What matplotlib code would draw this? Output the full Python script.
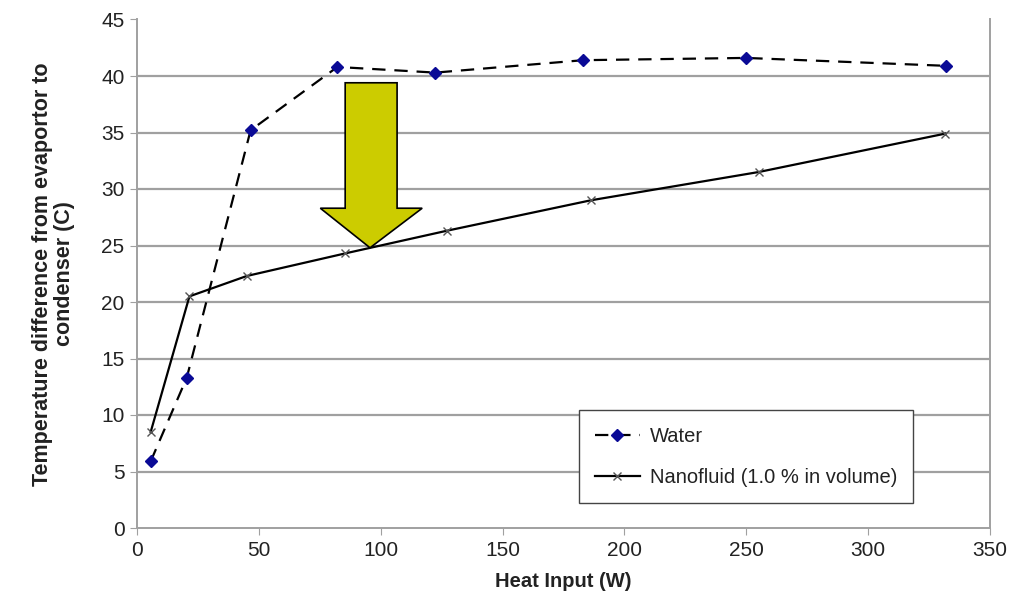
import matplotlib
matplotlib.use("Agg")
import matplotlib.pyplot as plt
from matplotlib.patches import Polygon

plt.rcParams['font.family'] = ['Liberation Sans', 'DejaVu Sans']

# Data
water_x = [5.6, 20.4, 46.6, 82.2, 122.4, 183.1, 249.8, 332.0]
water_y = [5.9, 13.3, 35.2, 40.8, 40.3, 41.4, 41.6, 40.9]
nano_x = [5.6, 21.5, 45.0, 85.4, 127.0, 186.2, 255.0, 331.6]
nano_y = [8.5, 20.5, 22.3, 24.3, 26.3, 29.0, 31.5, 34.9]
x_ticks = list(range(0, 351, 50))
y_ticks = list(range(0, 46, 5))

# Arrow annotation (data units)
arrow_left, arrow_right = 85.4, 106.7
arrow_top, arrow_head_base = 39.4, 28.3
head_left, head_right = 75.2, 117.0
tip_x, tip_y = 95.6, 24.8

fig = plt.figure(figsize=(10.25, 6.0), dpi=100)
ax = fig.add_axes([0.1337, 0.12, 0.8322, 0.8475])

grid_c = '#a0a0a0'
for v in y_ticks[1:-1]:
    ax.axhline(v, color=grid_c, lw=1.6, zorder=1)

ax.plot(water_x, water_y, color='black', lw=1.6, ls=(0, (6, 4)),
        marker='D', ms=6, mfc='#0a0a96', mec='#0a0a96', label='Water', zorder=3)
ax.plot(nano_x, nano_y, color='black', lw=1.6, ls='-',
        marker='x', ms=6, mec='#555555', mew=1.0,
        label='Nanofluid (1.0 % in volume)', zorder=3)

arrow = Polygon([(arrow_left, arrow_top), (arrow_right, arrow_top),
                 (arrow_right, arrow_head_base), (head_right, arrow_head_base),
                 (tip_x, tip_y), (head_left, arrow_head_base),
                 (arrow_left, arrow_head_base)],
                closed=True, facecolor='#cccc00', edgecolor='black', lw=1.2, zorder=4)
ax.add_patch(arrow)

ax.set_xlim(0, 350)
ax.set_ylim(0, 45)
ax.set_xticks(x_ticks)
ax.set_yticks(y_ticks)
ax.tick_params(direction='out', length=5, color=grid_c, labelsize=15, pad=4,
               labelcolor='#222222')

for side in ['left', 'bottom', 'right']:
    ax.spines[side].set_color(grid_c)
    ax.spines[side].set_linewidth(1.4)
ax.spines['top'].set_visible(False)

ax.set_xlabel('Heat Input (W)', fontsize=14.5, fontweight='bold', labelpad=9,
              color='#222222')
ax.set_ylabel('Temperature difference from evaportor to\ncondenser (C)',
              fontsize=15.5, fontweight='bold', labelpad=19, color='#222222',
              linespacing=1.05)

leg = ax.legend(loc='center', bbox_to_anchor=(0.513, 0.039, 0.402, 0.2026),
                fontsize=14.5, fancybox=False, framealpha=1, edgecolor='#444444',
                handlelength=2.2, handletextpad=0.5, labelspacing=1.1,
                borderpad=0.8, borderaxespad=0)
leg.get_frame().set_linewidth(1.0)
for t in leg.get_texts():
    t.set_color('#222222')
leg.set_zorder(5)

fig.savefig('out.png', dpi=100)
